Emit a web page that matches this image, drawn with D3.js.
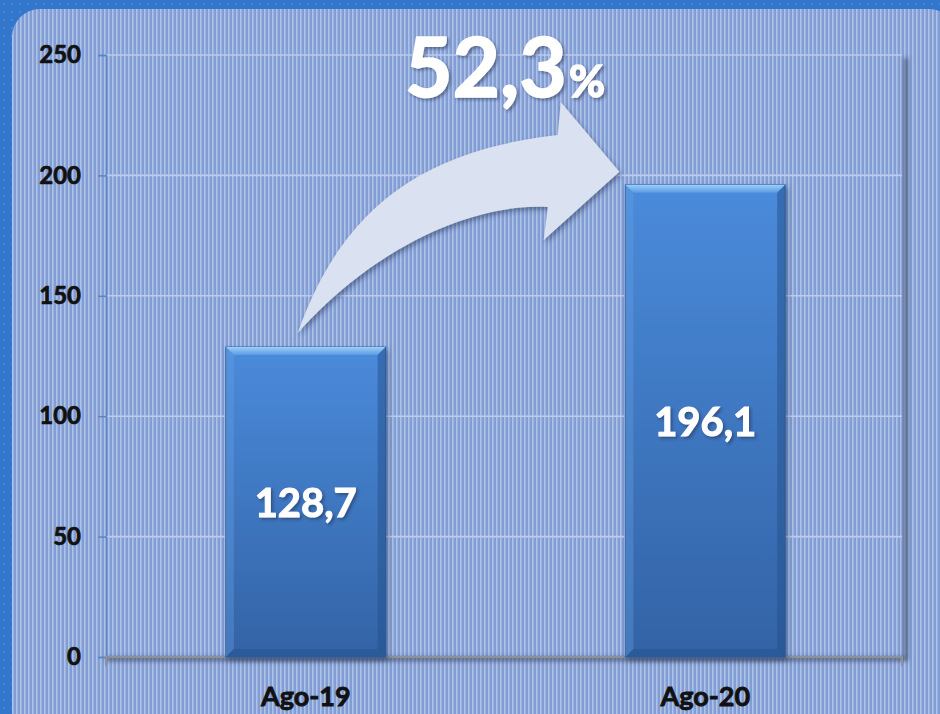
<!DOCTYPE html>
<html>
<head>
<meta charset="utf-8">
<script src="https://cdn.jsdelivr.net/npm/d3@7"></script>
<style>
  body { margin: 0; background: #3377cc; }
  svg { display: block; }
</style>
</head>
<body>
<svg id="chart" width="940" height="714"></svg>
<script>
// data
let categories = ["Ago-19", "Ago-20"];
let values = [128.7, 196.1];
let valueLabels = ["128,7", "196,1"];
let yTicks = [0, 50, 100, 150, 200, 250];
let growthLabel = "52,3";

let svg = d3.select("#chart");
let width = +svg.attr("width");
let height = +svg.attr("height");
let defs = svg.append("defs");

// scales
let x = d3.scaleBand()
    .domain(categories)
    .range([106, 905])
    .paddingInner(0.6)
    .paddingOuter(0.3);

let y = d3.scaleLinear()
    .domain([0, 250])
    .range([657, 55]);

//? patterns and gradients
let dots = defs.append("pattern")
    .attr("id", "dots")
    .attr("width", 8).attr("height", 8)
    .attr("patternUnits", "userSpaceOnUse");
dots.append("rect").attr("width", 8).attr("height", 8).attr("fill", "#3377cc");
dots.append("circle").attr("cx", 4).attr("cy", 4).attr("r", 0.9).attr("fill", "#4f8fe6");

let stripes = defs.append("pattern")
    .attr("id", "stripes")
    .attr("width", 4).attr("height", 4)
    .attr("patternUnits", "userSpaceOnUse");
stripes.append("rect").attr("width", 4).attr("height", 4).attr("fill", "#829dd2");
stripes.append("rect").attr("x", 0).attr("width", 1.6).attr("height", 4).attr("fill", "#aec1e8");

let barGrad = defs.append("linearGradient")
    .attr("id", "barGrad")
    .attr("x1", 0).attr("y1", 0).attr("x2", 0).attr("y2", 1);
barGrad.append("stop").attr("offset", "0%").attr("stop-color", "#4a8bdb");
barGrad.append("stop").attr("offset", "100%").attr("stop-color", "#3363a6");

let bevelGrad = defs.append("linearGradient")
    .attr("id", "bevelGrad")
    .attr("x1", 0).attr("y1", 0).attr("x2", 0).attr("y2", 1);
bevelGrad.append("stop").attr("offset", "0%").attr("stop-color", "#9ccff8");
bevelGrad.append("stop").attr("offset", "100%").attr("stop-color", "#5a9ae3");

let blur = defs.append("filter").attr("id", "blur")
    .attr("x", "-10%").attr("y", "-10%").attr("width", "120%").attr("height", "120%");
blur.append("feGaussianBlur").attr("stdDeviation", 2);

let shadow = defs.append("filter").attr("id", "shadow")
    .attr("x", "-20%").attr("y", "-20%").attr("width", "140%").attr("height", "140%");
shadow.append("feDropShadow")
    .attr("dx", 2).attr("dy", 3).attr("stdDeviation", 2.5)
    .attr("flood-color", "#1d2f55").attr("flood-opacity", 0.5);

let textShadow = defs.append("filter").attr("id", "textShadow")
    .attr("x", "-20%").attr("y", "-20%").attr("width", "140%").attr("height", "140%");
textShadow.append("feDropShadow")
    .attr("dx", 2).attr("dy", 2).attr("stdDeviation", 1.5)
    .attr("flood-color", "#1c2a4a").attr("flood-opacity", 0.5);

//? background
svg.append("rect")
    .attr("width", width).attr("height", height)
    .attr("fill", "url(#dots)");

svg.append("rect")
    .attr("x", 12).attr("y", 9)
    .attr("width", 945).attr("height", 740)
    .attr("rx", 28).attr("ry", 28)
    .attr("fill", "url(#stripes)");

//? plot frame shadow (right side and under the x axis)
svg.append("path")
    .attr("d", `M${x.range()[0]},${y(0) + 2}H${x.range()[1] + 1}V${y(250) + 3}`)
    .attr("fill", "none")
    .attr("stroke", "#3f4d6c")
    .attr("stroke-width", 4)
    .attr("opacity", 0.8)
    .attr("filter", "url(#blur)");

//? gridlines
svg.append("g")
    .selectAll("line")
    .data(yTicks.filter(d => d > 0))
    .enter()
    .append("line")
    .attr("x1", x.range()[0])
    .attr("x2", x.range()[1] - 3)
    .attr("y1", d => y(d))
    .attr("y2", d => y(d))
    .attr("stroke", "#bccbee")
    .attr("stroke-width", 1.6);

//? y axis
let yAxis = svg.append("g")
    .attr("transform", `translate(${x.range()[0]},0)`)
    .call(d3.axisLeft(y).tickValues(yTicks).tickSize(8).tickPadding(17));
yAxis.select(".domain").attr("stroke", "#5b86c6").attr("stroke-width", 1.3);
yAxis.selectAll(".tick line").attr("stroke", "#5b86c6").attr("stroke-width", 1.5);
yAxis.selectAll(".tick text")
    .attr("fill", "#111")
    .attr("stroke", "#111")
    .attr("stroke-width", 0.7)
    .style("font-family", "Lato, 'Open Sans', sans-serif")
    .style("font-weight", "bold")
    .style("font-size", "24px");

//? x axis
let xAxis = svg.append("g")
    .attr("transform", `translate(0,${y(0)})`)
    .call(d3.axisBottom(x).tickSize(0).tickPadding(30));
xAxis.select(".domain")
    .attr("d", `M${x.range()[0]},9V0H${x.range()[1] - 3}V9`)
    .attr("stroke", "#8e9196")
    .attr("stroke-width", 2)
    .attr("fill", "none");
xAxis.selectAll(".tick text")
    .attr("fill", "#111")
    .attr("stroke", "#111")
    .attr("stroke-width", 0.8)
    .style("font-family", "Lato, 'Open Sans', sans-serif")
    .style("font-weight", "bold")
    .style("font-size", "27px");

//? bars
let bars = svg.append("g")
    .selectAll("g")
    .data(categories.map((c, i) => ({ cat: c, value: values[i], label: valueLabels[i] })))
    .enter()
    .append("g");

let bevel = 8;

bars.append("rect")
    .attr("x", d => x(d.cat))
    .attr("y", d => y(d.value))
    .attr("width", x.bandwidth())
    .attr("height", d => y(0) - y(d.value))
    .attr("fill", "url(#barGrad)")
    .attr("stroke", "#2f5d9c")
    .attr("stroke-width", 1)
    .attr("filter", "url(#shadow)");

// top bevel
bars.append("path")
    .attr("d", function (d) {
        let x0 = x(d.cat), x1 = x0 + x.bandwidth(), y0 = y(d.value);
        return `M${x0},${y0}H${x1}L${x1 - bevel},${y0 + bevel}H${x0 + bevel}Z`;
    })
    .attr("fill", "url(#bevelGrad)");

// side bevels
bars.append("path")
    .attr("d", function (d) {
        let x0 = x(d.cat), y0 = y(d.value), y1 = y(0);
        return `M${x0},${y0}L${x0 + bevel},${y0 + bevel}V${y1 - bevel}L${x0},${y1}Z`;
    })
    .attr("fill", "#6aa3e6")
    .attr("opacity", 0.35);

bars.append("path")
    .attr("d", function (d) {
        let x1 = x(d.cat) + x.bandwidth(), y0 = y(d.value), y1 = y(0);
        return `M${x1},${y0}L${x1 - bevel},${y0 + bevel}V${y1 - bevel}L${x1},${y1}Z`;
    })
    .attr("fill", "#234f8a")
    .attr("opacity", 0.5);

bars.append("path")
    .attr("d", function (d) {
        let x0 = x(d.cat), x1 = x0 + x.bandwidth(), y1 = y(0);
        return `M${x0},${y1}L${x0 + bevel},${y1 - bevel}H${x1 - bevel}L${x1},${y1}Z`;
    })
    .attr("fill", "#24518d")
    .attr("opacity", 0.5);

bars.append("text")
    .attr("x", d => x(d.cat) + x.bandwidth() / 2)
    .attr("y", d => (y(d.value) + y(0)) / 2)
    .attr("text-anchor", "middle")
    .attr("dominant-baseline", "central")
    .attr("fill", "white")
    .attr("stroke", "white")
    .attr("stroke-width", 1)
    .attr("filter", "url(#textShadow)")
    .style("font-family", "Lato, 'Open Sans', sans-serif")
    .style("font-weight", "bold")
    .style("font-size", "40px")
    .text(d => d.label);

//? growth arrow, anchored on the two bar tops
let tail = [x(categories[0]) + x.bandwidth() / 2 - 8, y(values[0]) - 14];
let arrow = d3.path();
arrow.moveTo(tail[0], tail[1]);
arrow.bezierCurveTo(tail[0] + 43, tail[1] - 123, tail[0] + 123, tail[1] - 183, tail[0] + 260, tail[1] - 198);
arrow.lineTo(tail[0] + 263, tail[1] - 231);
arrow.lineTo(x(categories[1]) - 6, y(values[1]) - 13);
arrow.lineTo(tail[0] + 246, tail[1] - 93);
arrow.lineTo(tail[0] + 250, tail[1] - 126);
arrow.bezierCurveTo(tail[0] + 183, tail[1] - 130, tail[0] + 83, tail[1] - 93, tail[0], tail[1]);
arrow.closePath();

svg.append("path")
    .attr("d", arrow.toString())
    .attr("fill", "#dae1f0")
    .attr("filter", "url(#shadow)");

//? growth label
let growth = svg.append("text")
    .attr("x", 405)
    .attr("y", 97)
    .attr("fill", "white")
    .attr("stroke", "white")
    .attr("stroke-width", 1.5)
    .attr("filter", "url(#textShadow)")
    .style("font-family", "Lato, 'Open Sans', sans-serif")
    .style("font-weight", "bold");
growth.append("tspan")
    .style("font-size", "82px")
    .text(growthLabel);
growth.append("tspan")
    .attr("dx", 2)
    .style("font-size", "44px")
    .text("%");
</script>
</body>
</html>
